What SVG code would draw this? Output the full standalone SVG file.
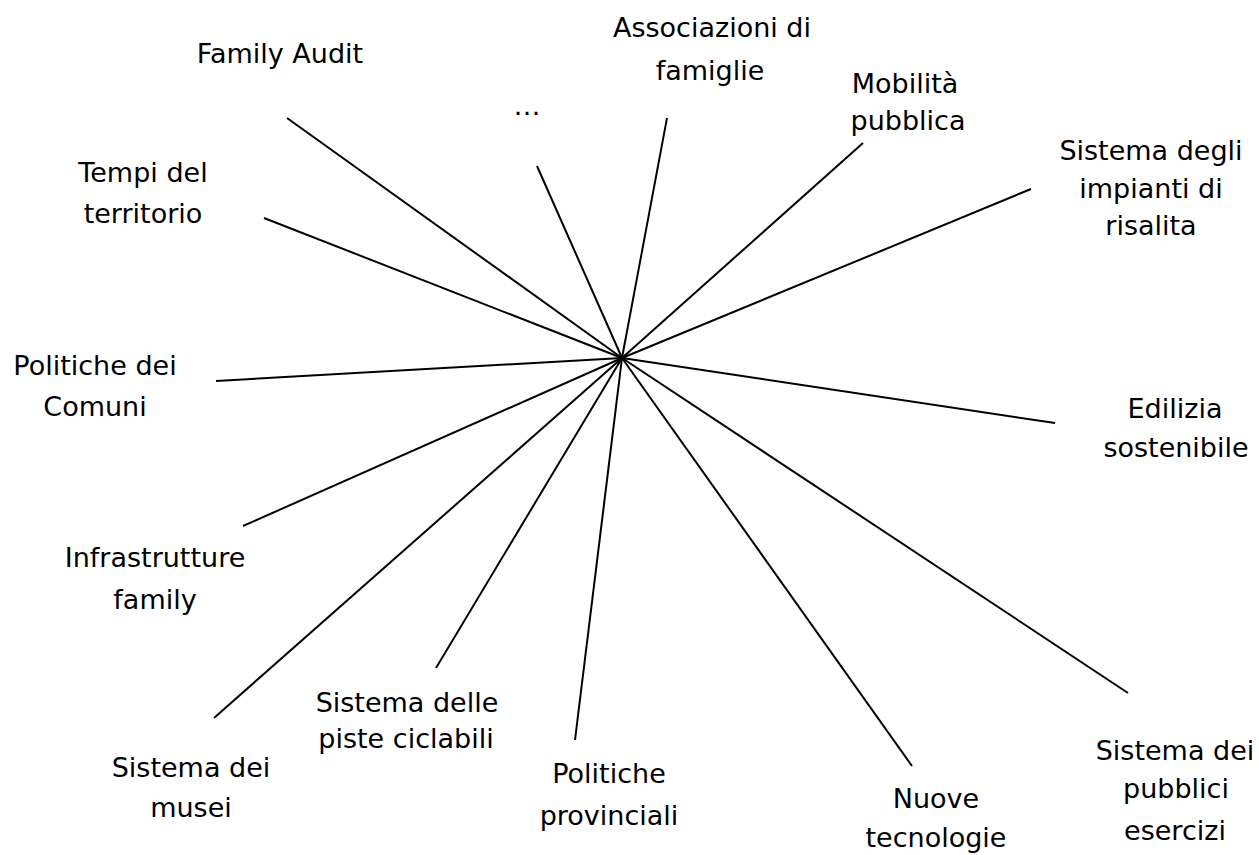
<svg xmlns="http://www.w3.org/2000/svg" width="1259" height="855" viewBox="0 0 1259 855">
<style>
.lbl{font-family:"DejaVu Sans","Liberation Sans",sans-serif;font-size:27px;fill:#000;text-anchor:middle}
.c line{stroke:#000;stroke-width:2;stroke-linecap:butt}
</style>
<rect width="1259" height="855" fill="#fff"/>
<g id="connectors" class="c">
<line x1="622" y1="358" x2="287" y2="118"/>
<line x1="622" y1="358" x2="264" y2="218"/>
<line x1="622" y1="358" x2="537" y2="166"/>
<line x1="622" y1="358" x2="667" y2="118"/>
<line x1="622" y1="358" x2="863" y2="143"/>
<line x1="622" y1="358" x2="1031" y2="189"/>
<line x1="622" y1="358" x2="1055" y2="423"/>
<line x1="622" y1="358" x2="1128" y2="693"/>
<line x1="622" y1="358" x2="912" y2="766"/>
<line x1="622" y1="358" x2="575" y2="740"/>
<line x1="622" y1="358" x2="436" y2="668"/>
<line x1="622" y1="358" x2="214" y2="718"/>
<line x1="622" y1="358" x2="243" y2="526"/>
<line x1="622" y1="358" x2="216" y2="381"/>
</g>
<g id="family-audit"><text class="lbl" x="280" y="63">Family Audit</text></g>
<g id="associazioni"><text class="lbl" x="712" y="37">Associazioni di</text><text class="lbl" x="710" y="80">famiglie</text></g>
<g id="altro"><text class="lbl" x="527" y="115">…</text></g>
<g id="mobilita"><text class="lbl" x="905" y="93">Mobilità</text><text class="lbl" x="908" y="130">pubblica</text></g>
<g id="impianti"><text class="lbl" x="1151" y="160">Sistema degli</text><text class="lbl" x="1151" y="198">impianti di</text><text class="lbl" x="1151" y="235">risalita</text></g>
<g id="edilizia"><text class="lbl" x="1175" y="418">Edilizia</text><text class="lbl" x="1176" y="457">sostenibile</text></g>
<g id="tempi"><text class="lbl" x="143" y="182">Tempi del</text><text class="lbl" x="143" y="223">territorio</text></g>
<g id="politiche-comuni"><text class="lbl" x="95" y="375">Politiche dei</text><text class="lbl" x="95" y="416">Comuni</text></g>
<g id="infrastrutture"><text class="lbl" x="155" y="567">Infrastrutture</text><text class="lbl" x="155" y="609">family</text></g>
<g id="musei"><text class="lbl" x="191" y="777">Sistema dei</text><text class="lbl" x="191" y="817">musei</text></g>
<g id="piste"><text class="lbl" x="407" y="712">Sistema delle</text><text class="lbl" x="406" y="748">piste ciclabili</text></g>
<g id="politiche-provinciali"><text class="lbl" x="609" y="783">Politiche</text><text class="lbl" x="609" y="825">provinciali</text></g>
<g id="nuove-tecnologie"><text class="lbl" x="936" y="808">Nuove</text><text class="lbl" x="936" y="847">tecnologie</text></g>
<g id="pubblici-esercizi"><text class="lbl" x="1175" y="760">Sistema dei</text><text class="lbl" x="1176" y="798">pubblici</text><text class="lbl" x="1175" y="840">esercizi</text></g>
</svg>
